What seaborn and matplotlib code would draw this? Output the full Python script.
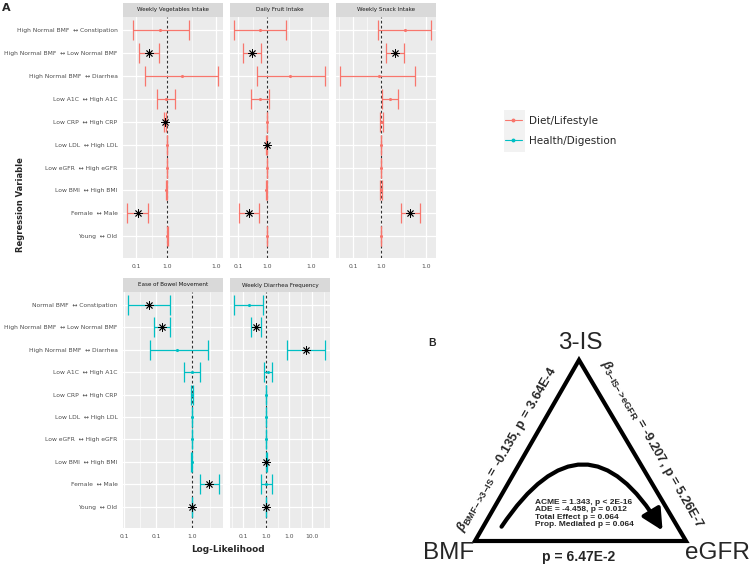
import numpy as np
import pandas as pd
import matplotlib.pyplot as plt
import seaborn as sns
from matplotlib.lines import Line2D
from matplotlib.patches import FancyArrowPatch, Polygon, Rectangle
from matplotlib.ticker import FixedLocator, NullFormatter

# ---- data ----
rows_top = ['High Normal BMF  ↔ Constipation', 'High Normal BMF  ↔ Low Normal BMF',
            'High Normal BMF  ↔ Diarrhea', 'Low A1C  ↔ High A1C', 'Low CRP  ↔ High CRP',
            'Low LDL  ↔ High LDL', 'Low eGFR  ↔ High eGFR', 'Low BMI  ↔ High BMI',
            'Female  ↔ Male', 'Young  ↔ Old']
rows_bottom = ['Normal BMF  ↔ Constipation'] + rows_top[1:]

panels = ['Weekly Vegetables Intake', 'Daily Fruit Intake', 'Weekly Snack Intake',
          'Ease of Bowel Movement', 'Weekly Diarrhea Frequency']
panel_group = ['Diet/Lifestyle', 'Diet/Lifestyle', 'Diet/Lifestyle',
               'Health/Digestion', 'Health/Digestion']

veg_est = [0.59, 0.257, 3.05, 0.93, 0.86, 1.0, 1.01, 0.96, 0.113, 1.02]
veg_lo = [0.078, 0.122, 0.20, 0.47, 0.80, 0.98, 0.99, 0.94, 0.052, 1.0]
veg_hi = [5.0, 0.55, 45.0, 1.81, 0.93, 1.02, 1.03, 0.98, 0.249, 1.04]
veg_sig = [0, 1, 0, 0, 1, 0, 0, 0, 1, 0]

fruit_est = [0.57, 0.31, 6.36, 0.57, 0.99, 0.98, 1.0, 0.95, 0.24, 1.01]
fruit_lo = [0.071, 0.152, 0.44, 0.29, 0.97, 0.96, 0.98, 0.92, 0.111, 0.99]
fruit_hi = [4.52, 0.64, 100.0, 1.2, 1.01, 1.0, 1.02, 0.98, 0.52, 1.03]
fruit_sig = [0, 1, 0, 0, 0, 1, 0, 0, 1, 0]

snack_est = [7.2, 3.09, 0.83, 2.04, 1.05, 1.0, 1.0, 1.02, 11.2, 1.0]
snack_lo = [0.76, 1.47, 0.035, 1.06, 0.93, 0.98, 0.98, 0.94, 5.3, 0.98]
snack_hi = [63.0, 6.6, 15.9, 4.15, 1.18, 1.02, 1.03, 1.12, 24.7, 1.02]
snack_sig = [0, 1, 0, 0, 0, 0, 0, 0, 1, 0]

ease_est = [0.063, 0.144, 0.383, 1.0, 1.0, 1.0, 1.0, 0.99, 3.03, 1.0]
ease_lo = [0.0164, 0.0897, 0.067, 0.61, 0.94, 0.98, 0.98, 0.95, 1.70, 0.98]
ease_hi = [0.24, 0.24, 2.84, 1.67, 1.06, 1.02, 1.02, 1.03, 5.5, 1.02]
ease_sig = [1, 1, 0, 0, 0, 0, 0, 0, 1, 1]

diar_est = [0.18, 0.37, 53.0, 1.22, 1.0, 1.0, 1.0, 1.02, 1.0, 0.99]
diar_lo = [0.039, 0.23, 8.4, 0.82, 0.97, 0.98, 0.98, 0.98, 0.63, 0.95]
diar_hi = [0.76, 0.61, 367.0, 1.88, 1.03, 1.02, 1.02, 1.07, 1.77, 1.03]
diar_sig = [0, 1, 1, 0, 0, 0, 0, 1, 0, 1]

estimates = [veg_est, fruit_est, snack_est, ease_est, diar_est]
lows = [veg_lo, fruit_lo, snack_lo, ease_lo, diar_lo]
highs = [veg_hi, fruit_hi, snack_hi, ease_hi, diar_hi]
sigs = [veg_sig, fruit_sig, snack_sig, ease_sig, diar_sig]

x_limits = [(0.038, 64), (0.053, 137), (0.0247, 92), (0.0121, 7.26), (0.0272, 603)]
x_ticks = [[0.1, 1, 38.1], [0.1, 1, 32.9], [0.1, 1, 40.5], [0.0129, 0.1, 1], [0.1, 1, 10, 100]]
x_ticklabels = [['0.1', '1.0', '1.0'], ['0.1', '1.0', '1.0'], ['0.1', '1.0', '1.0'],
                ['0.1', '0.1', '1.0'], ['0.1', '1.0', '1.0', '10.0']]

# panel B diagram
node_names = ['BMF', '3-IS', 'eGFR']
edge_left = r'$\beta_{\rm BMF\!-\!>\!3\!-\!IS}$ = -0.135, p = 3.64E-4'
edge_right = r'$\beta_{\rm 3\!-\!IS\!-\!>\!eGFR}$ = -9.207, p = 5.26E-7'
edge_bottom = 'p = 6.47E-2'
mediation = ['ACME = 1.343, p < 2E-16', 'ADE = -4.458, p = 0.012',
             'Total Effect p = 0.064', 'Prop. Mediated p = 0.064']

colors = {'Diet/Lifestyle': '#F8766D', 'Health/Digestion': '#00BFC4'}

# ---- style ----
sns.set_theme(style='darkgrid', rc={'axes.facecolor': '#EBEBEB', 'grid.color': 'white'})
plt.rcParams['font.family'] = ['DejaVu Sans']
plt.rcParams['mathtext.fontset'] = 'custom'
plt.rcParams['mathtext.rm'] = 'Liberation Sans:bold'
plt.rcParams['mathtext.it'] = 'Liberation Sans:bold:italic'
plt.rcParams['mathtext.bf'] = 'Liberation Sans:bold'

W, H = 750, 567
fig = plt.figure(figsize=(W / 100, H / 100), dpi=100)


def rect(x0, y0, x1, y1):
    return [x0 / W, 1 - y1 / H, (x1 - x0) / W, (y1 - y0) / H]


# panel B drawn in pixel space underneath everything
axb = fig.add_axes([0, 0, 1, 1])
axb.set_xlim(0, W)
axb.set_ylim(H, 0)
axb.axis('off')

tri = np.array([[475, 541], [579, 360], [686, 541]])
axb.add_patch(Polygon(tri, closed=True, fill=False, lw=3, ec='black', joinstyle='miter'))
axb.text(449, 553, node_names[0], fontsize=17.5, family='Liberation Sans', ha='center', va='center')
axb.text(580, 343, node_names[1], fontsize=17.5, family='Liberation Sans', ha='center', va='center')
axb.text(717, 553, node_names[2], fontsize=17.5, family='Liberation Sans', ha='center', va='center')
axb.text(507, 449, edge_left, fontsize=9.3, family='Liberation Sans', fontweight='bold',
         rotation=60, rotation_mode='anchor', ha='center', va='center')
axb.text(652, 444, edge_right, fontsize=9.3, family='Liberation Sans', fontweight='bold',
         rotation=-60, rotation_mode='anchor', ha='center', va='center')
axb.text(579, 557, edge_bottom, fontsize=10, family='Liberation Sans', fontweight='bold',
         ha='center', va='center')
axb.text(535, 513.5, '\n'.join(mediation), fontsize=6, family='Liberation Sans', fontweight='bold',
         ha='left', va='center', linespacing=1.1)
arrow = FancyArrowPatch((500, 529), (664, 533), connectionstyle='arc3,rad=-0.8',
                        arrowstyle='-|>,head_length=0.9,head_width=0.45', mutation_scale=14,
                        lw=3, color='black')
axb.add_patch(arrow)
axb.text(432, 343, 'B', fontsize=7.5, family='Liberation Sans', fontweight='bold',
         ha='center', va='center')

# ---- panel A: forest plots ----
panel_boxes = [(123, 17, 223, 258), (230, 17, 329, 258), (336, 17, 436, 258),
               (123, 292, 223, 528), (230, 292, 330, 528)]

for i, name in enumerate(panels):
    x0, y0, x1, y1 = panel_boxes[i]
    ax = fig.add_axes(rect(x0, y0, x1, y1))
    col = colors[panel_group[i]]
    df = pd.DataFrame({'row': np.arange(10), 'est': estimates[i], 'lo': lows[i],
                       'hi': highs[i], 'sig': sigs[i]})

    ax.axvline(1, ls=(0, (2.5, 2)), color='#333333', lw=0.8, zorder=2)
    _, caps, _ = ax.errorbar(df['est'], df['row'],
                             xerr=[df['est'] - df['lo'], df['hi'] - df['est']],
                             fmt='none', ecolor=col, elinewidth=0.9, capsize=7,
                             capthick=0.9, zorder=3)
    for c in caps:
        c.set_color(col)
        c.set_markeredgecolor(col)
    sns.scatterplot(data=df, x='est', y='row', color=col, s=5, linewidth=0, ax=ax, zorder=4)
    sns.scatterplot(data=df[df['sig'] == 1], x='est', y='row', marker=(8, 2, 0), s=30,
                    color='black', linewidth=0.6, ax=ax, zorder=5)

    ax.set_xscale('log')
    ax.set_xlim(*x_limits[i])
    ax.set_xticks(x_ticks[i])
    ax.set_xticklabels(x_ticklabels[i])
    lt = np.log10(x_ticks[i])
    step = np.diff(lt)
    mids = list((lt[:-1] + lt[1:]) / 2) + [lt[0] - step[0] / 2, lt[-1] + step[-1] / 2]
    ax.xaxis.set_minor_locator(FixedLocator(10 ** np.array(mids)))
    ax.xaxis.set_minor_formatter(NullFormatter())
    ax.set_yticks(range(10))
    ax.set_ylim(9.95, -0.58)
    ax.grid(True, which='major', color='white', lw=0.9)
    ax.grid(True, which='minor', axis='x', color='white', lw=0.45)
    ax.tick_params(axis='both', which='major', length=2.5, width=0.6, color='#333333',
                   labelsize=4.3, labelcolor='#4D4D4D', pad=1.5)
    ax.tick_params(which='minor', length=0)
    if i in (0, 3):
        ax.set_yticklabels(rows_top if i == 0 else rows_bottom)
    else:
        ax.set_yticklabels([])
        ax.tick_params(axis='y', length=0)
    ax.set_xlabel('')
    ax.set_ylabel('')
    for s in ax.spines.values():
        s.set_visible(False)

    sax = fig.add_axes(rect(x0, y0 - 14, x1, y0))
    sax.set_facecolor('#D9D9D9')
    sax.set_xticks([])
    sax.set_yticks([])
    sax.grid(False)
    for s in sax.spines.values():
        s.set_visible(False)
    sax.text(0.5, 0.5, name, fontsize=4.1, color='#1A1A1A', ha='center', va='center',
             transform=sax.transAxes)

fig.text(21 / W, 1 - 205 / H, 'Regression Variable', rotation=90, fontsize=6,
         fontweight='bold', ha='center', va='center')
fig.text(228 / W, 1 - 549 / H, 'Log-Likelihood', fontsize=6.4, fontweight='bold',
         ha='center', va='center')
fig.text(6 / W, 1 - 8 / H, 'A', fontsize=8, fontweight='bold', ha='center', va='center')

# legend
handles = [Line2D([], [], color=colors[g], marker='o', markersize=1.8, lw=0.8)
           for g in ['Diet/Lifestyle', 'Health/Digestion']]
fig.patches.append(Rectangle((504 / W, 1 - 152 / H), 21 / W, 42 / H, transform=fig.transFigure,
                             facecolor='#F2F2F2', edgecolor='none', zorder=0))
fig.legend(handles, ['Diet/Lifestyle', 'Health/Digestion'], loc='center left',
           bbox_to_anchor=(505 / W, 1 - 131 / H), frameon=False, fontsize=7.5,
           handlelength=1.6, handletextpad=0.7, labelspacing=0.95, borderpad=0,
           borderaxespad=0)

fig.savefig('out.png', dpi=100)
